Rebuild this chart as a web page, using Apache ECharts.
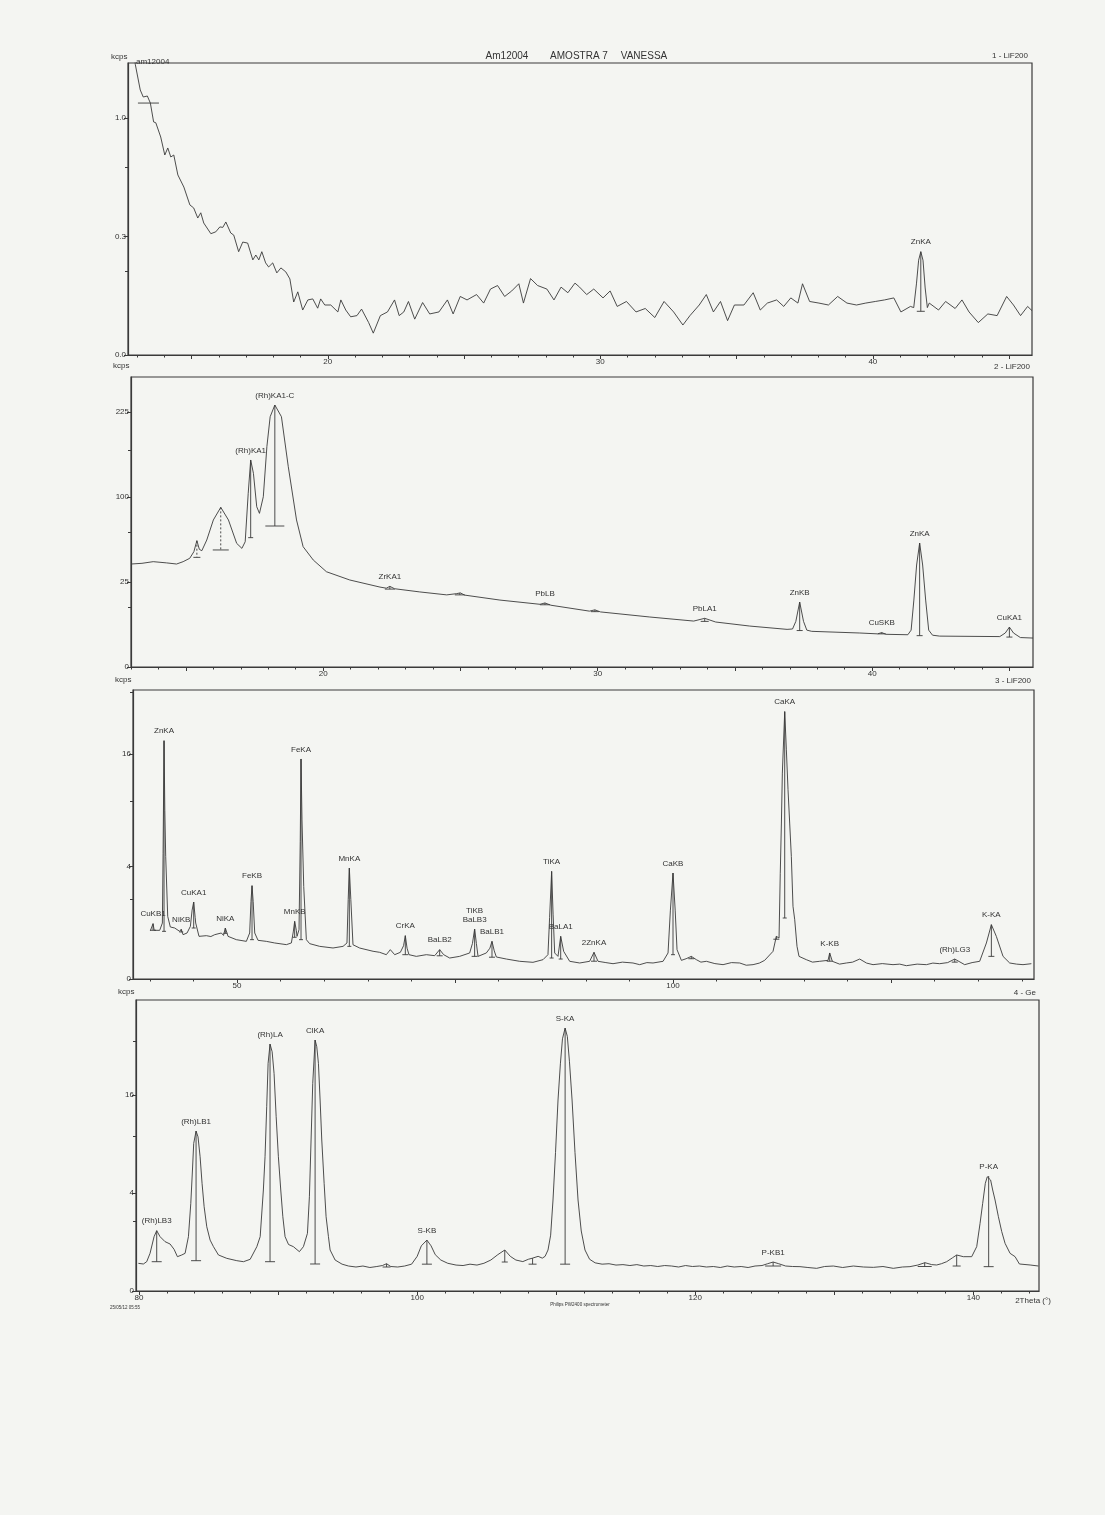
<!DOCTYPE html>
<html><head><meta charset="utf-8">
<script src="https://cdn.jsdelivr.net/npm/echarts@6/dist/echarts.min.js"></script>
<style>html,body{margin:0;padding:0;background:#f4f5f2}#c{width:1105px;height:1515px}</style>
</head><body><div id="c"></div>
<script>
// ---------- DATA (2Theta in degrees, intensity in kcps) ----------
const spec1 = [[12.9,1.6],[12.94,1.50],[13.12,1.25],[13.23,1.185],[13.38,1.194],[13.49,1.13],[13.61,0.967],[13.69,0.96],[13.87,0.846],[14.02,0.712],[14.13,0.763],[14.24,0.698],[14.35,0.712],[14.50,0.577],[14.72,0.502],[14.94,0.401],[15.08,0.385],[15.23,0.334],[15.34,0.36],[15.45,0.31],[15.71,0.262],[15.89,0.27],[16.04,0.292],[16.15,0.29],[16.26,0.315],[16.44,0.265],[16.55,0.256],[16.73,0.19],[16.88,0.227],[17.06,0.223],[17.25,0.161],[17.36,0.178],[17.47,0.161],[17.58,0.19],[17.72,0.151],[17.83,0.138],[17.98,0.151],[18.13,0.12],[18.28,0.135],[18.46,0.123],[18.61,0.103],[18.75,0.05],[18.90,0.071],[19.08,0.036],[19.27,0.054],[19.45,0.056],[19.63,0.039],[19.74,0.056],[19.89,0.0445],[20.11,0.0445],[20.37,0.033],[20.48,0.054],[20.66,0.036],[20.84,0.026],
[21.07,0.0276],[21.24,0.0375],[21.50,0.0187],[21.67,0.0085],[21.93,0.0276],[22.19,0.033],[22.45,0.054],[22.62,0.0276],[22.79,0.033],[22.96,0.051],[23.19,0.0229],[23.48,0.049],[23.74,0.030],[24.08,0.033],[24.39,0.054],[24.60,0.030],[24.86,0.061],[25.11,0.054],[25.46,0.065],[25.72,0.048],[25.97,0.0774],[26.23,0.0859],[26.49,0.061],[26.75,0.073],[27.01,0.0903],[27.18,0.048],[27.44,0.104],[27.70,0.0859],[28.04,0.0774],[28.30,0.054],[28.56,0.082],[28.81,0.069],[29.07,0.092],[29.24,0.082],[29.50,0.065],[29.76,0.0774],[30.10,0.058],[30.36,0.073],[30.62,0.042],[30.96,0.051],[31.31,0.033],[31.65,0.0385],[32.0,0.025],[32.34,0.051],[32.69,0.033],[33.03,0.016],[33.29,0.0276],[33.63,0.0445],[33.89,0.065],[34.15,0.033],[34.41,0.051],[34.67,0.021],[34.92,0.0445],[35.27,0.0445],[35.61,0.069],[35.87,0.036],[36.13,0.048],[36.47,0.054],[36.73,0.042],[36.99,0.058],[37.25,0.048],[37.42,0.0903],[37.68,0.051],[38.02,0.048],[38.37,0.0445],[38.71,0.061],[39.05,0.048],[39.40,0.0445],[39.74,0.048],[40.09,0.051],[40.43,0.054],[40.77,0.058],[41.03,0.033],[41.38,0.042],[41.50,0.040],[41.60,0.09],[41.68,0.16],[41.76,0.19],[41.84,0.16],[41.92,0.08],[42.0,0.04],[42.07,0.048],[42.41,0.036],[42.67,0.051],[43.02,0.0385],[43.27,0.054],[43.53,0.033],[43.87,0.0187],[44.22,0.030],[44.56,0.0276],[44.91,0.061],[45.16,0.0445],[45.42,0.0276],[45.68,0.042],[45.84,0.035]];

const spec2 = [[13.0,36.7],[13.4,37.2],[13.81,38.4],[14.3,37.5],[14.66,36.7],[14.90,38.4],[15.14,40.9],[15.29,46],[15.40,55.2],[15.49,47.9],[15.58,46.8],[15.76,55.8],[16.0,74.8],[16.27,88.2],[16.55,74.8],[16.85,52.9],[17.04,48.7],[17.16,54.3],[17.27,104.4],[17.36,148.3],[17.46,129.8],[17.58,88.9],[17.68,81.7],[17.82,100.3],[17.95,168],[18.07,216.8],[18.24,237.5],[18.48,216.8],[18.73,138.8],[19.03,74.8],[19.27,50.1],[19.64,39.6],[20.12,31.4],[20.97,26.2],[22.07,22.1],[22.3,21.5],[22.43,22.5],[22.6,21.2],[23.52,19.5],[24.5,18.0],[24.85,18.6],[25.0,19.0],[25.15,17.9],[26.44,15.5],[27.9,13.6],[28.08,14.2],[28.3,13.2],[29.7,10.8],[29.9,11.3],[30.1,10.5],[31.9,8.65],[33.5,7.3],[33.9,8.2],[34.3,7.0],[35.54,5.8],[36.9,4.9],[37.1,5.0],[37.22,7.2],[37.36,14.6],[37.5,7.2],[37.62,4.7],[37.8,4.4],[39.55,4.0],[40.2,3.8],[40.35,4.1],[40.5,3.7],[41.3,3.6],[41.42,4.7],[41.52,15.5],[41.62,36],[41.73,53.2],[41.84,36],[41.95,15.5],[42.06,4.7],[42.2,3.5],[42.46,3.3],[44.65,3.2],[44.85,4],[45.0,5.5],[45.15,4],[45.4,3.0],[45.86,2.9]];

const spec3 = [[40.06,0.738],[40.25,0.76],[40.37,0.968],[40.5,0.75],[40.67,0.769],[41.13,0.748],[41.44,0.99],[41.52,5],[41.63,17.95],[41.72,9],[41.82,4.76],[42.05,1.24],[42.35,0.855],[42.85,0.822],[43.42,0.718],[43.6,0.78],[43.81,0.621],[44.27,0.669],[44.65,0.877],[44.85,1.5],[45.03,1.874],[45.2,1.2],[45.26,0.991],[45.64,0.575],[46.48,0.593],[47.0,0.57],[47.44,0.621],[48.2,0.669],[48.45,0.6],[48.66,0.822],[48.97,0.575],[49.92,0.489],[51.07,0.448],[51.45,0.669],[51.6,1.9],[51.72,2.753],[51.85,1.9],[52.03,0.669],[52.41,0.473],[53.36,0.448],[54.32,0.41],[55.66,0.373],[56.23,0.41],[56.45,0.7],[56.61,1.05],[56.8,0.75],[56.88,0.575],[57.11,0.769],[57.25,6],[57.34,15.3],[57.45,8],[57.65,2.71],[57.95,0.489],[58.33,0.395],[59.48,0.337],[61.01,0.304],[62.16,0.337],[62.61,0.41],[62.75,2.0],[62.88,3.89],[63.05,2.0],[63.30,0.371],[64.07,0.303],[65.60,0.243],[66.36,0.225],[67.12,0.187],[67.58,0.272],[68.08,0.187],[68.73,0.225],[69.1,0.35],[69.30,0.593],[69.5,0.3],[69.72,0.187],[70.56,0.162],[71.71,0.187],[72.67,0.172],[73.24,0.272],[73.70,0.187],[74.39,0.139],[75.53,0.162],[76.68,0.214],[77.0,0.4],[77.25,0.79],[77.45,0.4],[77.64,0.162],[78.59,0.214],[79.0,0.3],[79.24,0.448],[79.5,0.25],[79.74,0.153],[80.89,0.126],[82.42,0.099],[83.94,0.088],[85.09,0.118],[85.66,0.187],[85.85,1.2],[86.08,3.66],[86.25,1.3],[86.43,0.214],[86.81,0.162],[87.12,0.575],[87.46,0.242],[88.15,0.099],[89.3,0.081],[90.44,0.099],[90.94,0.225],[91.4,0.099],[92.3,0.085],[93.12,0.074],[94.2,0.09],[95.41,0.081],[96.18,0.065],[97.0,0.085],[97.71,0.081],[98.86,0.099],[99.43,0.214],[99.7,1.5],[100.0,3.55],[100.25,1.5],[100.46,0.272],[100.96,0.11],[101.5,0.13],[102.1,0.162],[102.68,0.118],[103.2,0.09],[103.83,0.099],[104.8,0.075],[105.74,0.065],[106.7,0.085],[107.65,0.081],[108.4,0.06],[109.18,0.065],[109.9,0.08],[110.51,0.11],[111.47,0.242],[111.85,0.575],[112.16,0.53],[112.3,3.5],[112.43,7.69],[112.54,13.4],[112.81,22.6],[113.0,16.6],[113.19,11.33],[113.38,7.69],[113.57,4.75],[113.76,1.67],[113.96,1.11],[114.22,0.337],[114.45,0.162],[115.29,0.118],[116.0,0.09],[116.82,0.099],[117.78,0.11],[117.97,0.214],[118.27,0.099],[119.1,0.07],[119.88,0.081],[120.6,0.09],[121.41,0.126],[122.2,0.08],[122.94,0.065],[124.0,0.075],[125.23,0.065],[126.0,0.07],[126.76,0.056],[128.0,0.07],[129.06,0.065],[129.8,0.08],[130.58,0.074],[131.5,0.085],[132.31,0.126],[133.45,0.065],[134.3,0.085],[135.17,0.099],[135.94,0.41],[136.51,0.933],[137.08,0.575],[137.85,0.162],[138.61,0.081],[139.4,0.07],[140.14,0.065],[141.1,0.074]];

const spec4 = [[79.95,0.319],[80.31,0.304],[80.55,0.358],[80.79,0.591],[81.08,1.23],[81.27,1.516],[81.51,1.23],[81.87,1.014],[82.23,0.92],[82.52,0.723],[82.76,0.491],[83.07,0.54],[83.31,0.591],[83.55,1.23],[83.72,3.2],[83.84,6.1],[83.93,9.08],[84.1,10.66],[84.24,9.9],[84.39,7.51],[84.53,4.83],[84.68,2.96],[84.87,1.72],[85.11,1.08],[85.35,0.82],[85.71,0.54],[86.31,0.444],[87.03,0.383],[87.51,0.358],[87.99,0.418],[88.47,0.819],[88.71,1.23],[88.94,4.25],[89.06,7.51],[89.18,14.15],[89.28,21.6],[89.42,25.4],[89.57,23.85],[89.71,19.7],[89.86,12.66],[90.02,7.51],[90.19,4.25],[90.34,2.3],[90.5,1.23],[90.75,0.9],[91.1,0.819],[91.53,0.644],[91.82,0.819],[92.11,1.385],[92.25,3.7],[92.37,9.5],[92.49,17.96],[92.66,26.24],[92.78,24.86],[92.9,21.6],[93.02,15.2],[93.14,9.5],[93.31,4.83],[93.45,2.3],[93.62,1.23],[93.74,0.7],[94.1,0.4],[94.6,0.3],[95.06,0.26],[95.6,0.24],[96.1,0.26],[96.6,0.23],[97.1,0.25],[97.5,0.27],[97.8,0.31],[98.1,0.25],[98.6,0.24],[99.1,0.26],[99.6,0.3],[100.0,0.5],[100.3,0.85],[100.7,1.08],[101.0,0.85],[101.3,0.55],[101.7,0.4],[102.2,0.32],[102.8,0.28],[103.3,0.27],[103.8,0.3],[104.3,0.28],[104.8,0.32],[105.3,0.4],[105.8,0.55],[106.3,0.7],[106.7,0.5],[107.1,0.4],[107.6,0.36],[108.0,0.42],[108.3,0.45],[108.7,0.5],[109.0,0.45],[109.2,0.5],[109.41,0.7],[109.6,1.3],[109.77,3.45],[109.95,8],[110.13,15.2],[110.3,21.5],[110.45,26.5],[110.64,28.8],[110.8,27],[110.95,22],[111.14,15.2],[111.35,8],[111.57,3.45],[111.8,1.5],[112.07,0.7],[112.4,0.42],[112.8,0.33],[113.3,0.3],[113.8,0.31],[114.3,0.28],[114.8,0.29],[115.3,0.27],[115.8,0.29],[116.3,0.26],[116.8,0.27],[117.3,0.25],[117.8,0.27],[118.3,0.26],[118.8,0.24],[119.3,0.27],[119.8,0.25],[120.3,0.26],[120.8,0.24],[121.3,0.25],[121.8,0.23],[122.3,0.26],[122.8,0.24],[123.3,0.25],[123.8,0.23],[124.3,0.26],[124.8,0.27],[125.2,0.31],[125.6,0.35],[126.0,0.31],[126.5,0.26],[127.0,0.25],[127.53,0.247],[128.1,0.23],[128.73,0.214],[129.3,0.25],[129.93,0.26],[130.6,0.23],[131.37,0.26],[132.1,0.24],[132.81,0.233],[133.5,0.25],[134.24,0.214],[134.9,0.24],[135.44,0.247],[136.0,0.28],[136.52,0.334],[137.0,0.29],[137.36,0.282],[137.7,0.31],[138.08,0.358],[138.5,0.46],[138.8,0.54],[139.28,0.491],[139.88,0.491],[140.24,0.819],[140.48,1.9],[140.67,3.2],[140.86,4.83],[141.0,5.44],[141.1,5.51],[141.24,5.13],[141.39,4.25],[141.56,3.45],[141.8,2.3],[142.04,1.47],[142.28,0.946],[142.64,0.591],[143.0,0.491],[143.31,0.304],[144.08,0.282],[144.68,0.26]];

// peak markers: position, apex, base (kcps), label
const mk1X = [13.42, 41.76];
const mk1Top = [1.13, 0.19];
const mk1Base = [1.13, 0.034];
const mk1Label = ['', 'ZnKA'];

const mk2X = [15.40, 16.27, 17.36, 18.24, 22.43, 24.98, 28.08, 29.9, 33.9, 37.36, 40.35, 41.73, 45.0];
const mk2Top = [55.2, 88.2, 148.3, 237.5, 22.5, 19.0, 14.2, 11.3, 8.2, 14.6, 4.1, 53.2, 5.5];
const mk2Base = [41.6, 47.4, 57.9, 68.8, 21.0, 18.0, 13.4, 10.6, 7.2, 4.6, 3.8, 3.4, 3.1];
const mk2Label = ['', '', '(Rh)KA1', '(Rh)KA1-C', 'ZrKA1', '', 'PbLB', '', 'PbLA1', 'ZnKB', 'CuSKB', 'ZnKA', 'CuKA1'];

const mk3X = [40.37, 41.63, 43.6, 45.03, 48.66, 51.72, 56.61, 57.34, 62.88, 69.30, 73.24, 77.25, 79.24, 86.08, 87.12, 90.94, 100.0, 102.1, 111.85, 112.81, 117.97, 132.31, 136.51];
const mk3Top = [0.968, 17.95, 0.78, 1.874, 0.822, 2.753, 1.05, 15.3, 3.89, 0.593, 0.272, 0.79, 0.448, 3.66, 0.575, 0.225, 3.55, 0.162, 0.575, 22.6, 0.214, 0.126, 0.933];
const mk3Base = [0.75, 0.718, 0.70, 0.822, 0.66, 0.489, 0.55, 0.489, 0.337, 0.187, 0.17, 0.162, 0.15, 0.139, 0.126, 0.10, 0.187, 0.13, 0.50, 1.176, 0.10, 0.09, 0.162];
const mk3Label = ['CuKB1', 'ZnKA', 'NiKB', 'CuKA1', 'NiKA', 'FeKB', 'MnKB', 'FeKA', 'MnKA', 'CrKA', 'BaLB2', 'TiKB\nBaLB3', 'BaLB1', 'TiKA', 'BaLA1', '2ZnKA', 'CaKB', '', '', 'CaKA', 'K-KB', '(Rh)LG3', 'K-KA'];

const mk4X = [81.27, 84.1, 89.42, 92.66, 97.8, 100.7, 106.3, 108.3, 110.64, 125.6, 136.5, 138.8, 141.1];
const mk4Top = [1.516, 10.66, 25.4, 26.24, 0.31, 1.08, 0.7, 0.45, 28.8, 0.35, 0.334, 0.54, 5.51];
const mk4Base = [0.358, 0.383, 0.358, 0.304, 0.24, 0.30, 0.35, 0.30, 0.30, 0.26, 0.25, 0.26, 0.247];
const mk4Label = ['(Rh)LB3', '(Rh)LB1', '(Rh)LA', 'ClKA', '', 'S-KB', '', '', 'S-KA', 'P-KB1', '', '', 'P-KA'];

// axis ticks / labels
const xLabels1 = [20, 30, 40], xLabels2 = [20, 30, 40], xLabels3 = [50, 100], xLabels4 = [80, 100, 120, 140];
const yTicks1 = [0, 0.25, 1.0], yTickLabels1 = ['0.0', '0.3', '1.0'], yMinor1 = [0.125, 0.625];
const yTicks2 = [0, 25, 100, 225], yTickLabels2 = ['0', '25', '100', '225'], yMinor2 = [12.5, 62.5, 162.5];
const yTicks3 = [0, 4, 16], yTickLabels3 = ['0', '4', '16'], yMinor3 = [2, 10, 26];
const yTicks4 = [0, 4, 16], yTickLabels4 = ['0', '4', '16'], yMinor4 = [2, 10, 26];

// ---------- LAYOUT / STYLE ----------
const FONT = 'Liberation Sans, Arial, sans-serif';
const INK = '#3a3a3a';
function range(a, b, s) { const r = []; for (let v = a; v <= b + 1e-9; v += s) r.push(+v.toFixed(6)); return r; }

const panels = [
  { grid: { left: 128, top: 63, width: 904, height: 292 }, xmin: 12.67, xmax: 45.84, ymaxS: 1.232,
    xLab: xLabels1, xMed: range(15, 45, 5), xMin: range(13, 45, 1), yT: yTicks1, yL: yTickLabels1, yM: yMinor1,
    spec: spec1, mk: [mk1X, mk1Top, mk1Base, mk1Label], mkW: [10.5, 4], mkDash: [0, 0] },
  { grid: { left: 131, top: 377, width: 902, height: 290 }, xmin: 13.0, xmax: 45.86, ymaxS: 17.06,
    xLab: xLabels2, xMed: range(15, 45, 5), xMin: range(13, 45, 1), yT: yTicks2, yL: yTickLabels2, yM: yMinor2,
    spec: spec2, mk: [mk2X, mk2Top, mk2Base, mk2Label], mkW: [3.5, 8, 2.5, 9.5, 5, 5, 5, 4, 4, 3, 4, 3, 3], mkDash: [1, 1, 0, 0, 0, 0, 0, 0, 0, 0, 0, 0, 0] },
  { grid: { left: 133, top: 690, width: 901, height: 289 }, xmin: 38.07, xmax: 141.4, ymaxS: 5.138,
    xLab: xLabels3, xMed: range(50, 125, 25), xMin: range(40, 140, 5), yT: yTicks3, yL: yTickLabels3, yM: yMinor3,
    spec: spec3, mk: [mk3X, mk3Top, mk3Base, mk3Label], mkW: [3, 2, 2, 2, 2, 2, 2, 2, 2, 3, 3, 3, 3, 2, 2, 3, 2, 3, 3, 2, 3, 3, 3], mkDash: [] },
  { grid: { left: 136, top: 1000, width: 903, height: 291 }, xmin: 79.78, xmax: 144.72, ymaxS: 5.94,
    xLab: xLabels4, xMed: range(80, 140, 10), xMin: range(80, 144, 2), yT: yTicks4, yL: yTickLabels4, yM: yMinor4,
    spec: spec4, mk: [mk4X, mk4Top, mk4Base, mk4Label], mkW: [5, 5, 5, 5, 4, 5, 3, 4, 5, 8, 7, 4, 5], mkDash: [] }
];

const option = { backgroundColor: '#f4f5f2', animation: false, grid: [], xAxis: [], yAxis: [], series: [], graphic: [] };

panels.forEach((p, i) => {
  option.grid.push(Object.assign({ show: true, borderColor: INK, borderWidth: 1.2, backgroundColor: 'transparent' }, p.grid));
  option.xAxis.push({ type: 'value', gridIndex: i, position: 'bottom', min: p.xmin, max: p.xmax,
    axisLine: { show: true, onZero: false, lineStyle: { color: INK, width: 1.2 } },
    axisTick: { show: true, customValues: p.xMed, length: 4, lineStyle: { color: INK } },
    axisLabel: { customValues: p.xLab, fontSize: 8, color: '#333', fontFamily: FONT, margin: 3, formatter: v => String(v) },
    splitLine: { show: false } });
  option.xAxis.push({ type: 'value', gridIndex: i, position: 'bottom', min: p.xmin, max: p.xmax,
    axisLine: { show: false, onZero: false },
    axisTick: { show: true, customValues: p.xMin, length: 2.5, lineStyle: { color: INK } },
    axisLabel: { show: false }, splitLine: { show: false } });
  const yTs = p.yT.map(Math.sqrt);
  option.yAxis.push({ type: 'value', gridIndex: i, position: 'left', min: 0, max: p.ymaxS,
    axisLine: { show: true, onZero: false, lineStyle: { color: INK, width: 1.2 } },
    axisTick: { show: true, customValues: yTs, length: 4, lineStyle: { color: INK } },
    axisLabel: { customValues: yTs, fontSize: 8, color: '#333', fontFamily: FONT, margin: 2,
      formatter: v => { let k = 0, d = 1e9; yTs.forEach((t, j) => { if (Math.abs(t - v) < d) { d = Math.abs(t - v); k = j; } }); return p.yL[k]; } },
    splitLine: { show: false } });
  option.yAxis.push({ type: 'value', gridIndex: i, position: 'left', min: 0, max: p.ymaxS,
    axisLine: { show: false, onZero: false },
    axisTick: { show: true, customValues: p.yM.map(Math.sqrt), length: 3, lineStyle: { color: INK } },
    axisLabel: { show: false }, splitLine: { show: false } });

  option.series.push({ type: 'line', xAxisIndex: 2 * i, yAxisIndex: 2 * i, symbol: 'none', clip: true,
    lineStyle: { color: INK, width: 0.9 }, data: p.spec.map(d => [d[0], Math.sqrt(d[1])]) });

  const [mx, mt, mb, ml] = p.mk;
  option.series.push({ type: 'custom', xAxisIndex: 2 * i, yAxisIndex: 2 * i, clip: false,
    data: mx.map((x, j) => [x, Math.sqrt(mt[j]), Math.sqrt(mb[j])]),
    renderItem: (params, api) => {
      const j = params.dataIndex;
      const pt = api.coord([api.value(0), api.value(1)]);
      const pb = api.coord([api.value(0), api.value(2)]);
      const w = p.mkW[j] || 3;
      const dash = p.mkDash[j] ? [2, 2] : null;
      const ch = [];
      if (pb[1] - pt[1] > 0.5) ch.push({ type: 'line', shape: { x1: pt[0], y1: pt[1], x2: pb[0], y2: pb[1] }, style: { stroke: INK, lineWidth: 0.9, lineDash: dash } });
      ch.push({ type: 'line', shape: { x1: pb[0] - w, y1: pb[1], x2: pb[0] + w, y2: pb[1] }, style: { stroke: INK, lineWidth: 0.9 } });
      if (ml[j]) ch.push({ type: 'text', x: pt[0], y: pt[1] - 5, style: { text: ml[j], fill: '#333', fontSize: 8, fontFamily: FONT, align: 'center', verticalAlign: 'bottom', lineHeight: 9 } });
      return { type: 'group', children: ch };
    } });
});

function txt(x, y, s, size, align) {
  return { type: 'text', x: x, y: y, silent: true, style: { text: s, fill: '#333', fontSize: size, fontFamily: FONT, align: align || 'center', verticalAlign: 'middle', textAlign: align || 'center', textVerticalAlign: 'middle' } };
}
option.graphic = [
  txt(507, 56, 'Am12004', 10), txt(579, 56, 'AMOSTRA 7', 10), txt(644, 56, 'VANESSA', 10),
  txt(1028, 56, '1 - LiF200', 8, 'right'), txt(1030, 367, '2 - LiF200', 8, 'right'),
  txt(1031, 681, '3 - LiF200', 8, 'right'), txt(1036, 993, '4 - Ge', 8, 'right'),
  txt(111, 57, 'kcps', 8, 'left'), txt(136, 62, 'am12004', 8, 'left'),
  txt(113, 366, 'kcps', 8, 'left'), txt(115, 680, 'kcps', 8, 'left'), txt(118, 992, 'kcps', 8, 'left'),
  txt(1033, 1301, '2Theta (°)', 8), txt(110, 1308, '25/05/12 05:55', 4.5, 'left'),
  txt(580, 1305, 'Philips PW2400 spectrometer', 4.5)
];

const chart = echarts.init(document.getElementById('c'), null, { renderer: 'canvas' });
chart.setOption(option);
</script></body></html>
